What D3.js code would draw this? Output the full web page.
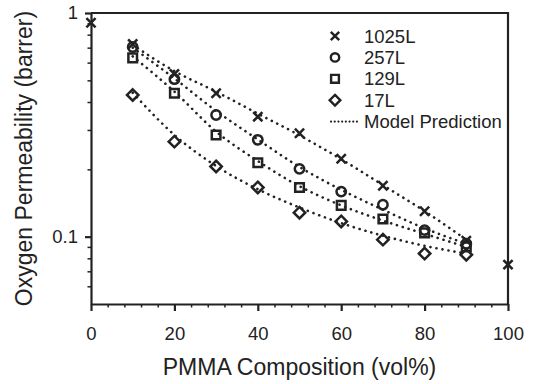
<!DOCTYPE html>
<html>
<head>
<meta charset="utf-8">
<script src="https://cdn.jsdelivr.net/npm/d3@7"></script>
<style>
  body { margin: 0; background: #fff; }
  text { font-family: "Liberation Sans", Arial, sans-serif; fill: #222; }
</style>
</head>
<body>
<div id="canvas"></div>
<script>
"use strict"

// composition values (vol% PMMA)
let composition = [10, 20, 30, 40, 50, 60, 70, 80, 90]
let seriesNames = ["1025L", "257L", "129L", "17L"]

let perm1025 = [0.727, 0.534, 0.438, 0.344, 0.290, 0.223, 0.169, 0.130, 0.096]
let perm257 = [0.705, 0.506, 0.350, 0.271, 0.201, 0.159, 0.139, 0.107, 0.093]
let perm129 = [0.630, 0.438, 0.285, 0.214, 0.166, 0.138, 0.120, 0.104, 0.090]
let perm17 = [0.430, 0.266, 0.206, 0.166, 0.128, 0.117, 0.097, 0.084, 0.083]

// pure components (0 and 100 vol%), drawn as 1025L crosses
let pureComposition = [0, 100]
let purePerm = [0.905, 0.075]

// model prediction curves
let model1025 = [0.72, 0.55, 0.445, 0.355, 0.284, 0.222, 0.170, 0.130, 0.097]
let model257 = [0.70, 0.51, 0.365, 0.272, 0.205, 0.162, 0.132, 0.109, 0.093]
let model129 = [0.64, 0.445, 0.295, 0.218, 0.168, 0.138, 0.118, 0.103, 0.090]
let model17 = [0.44, 0.285, 0.207, 0.163, 0.135, 0.115, 0.101, 0.091, 0.084]

let xTicks = [0, 20, 40, 60, 80, 100]
let yTicks = [0.1, 1]

let width = 538
let height = 384
let plotLeft = 91, plotRight = 508, plotTop = 13, plotBottom = 304

let drawing = d3.select("#canvas")
    .append("svg")
    .attr("width", width)
    .attr("height", height)

let x = d3.scaleLinear().domain([0, 100]).range([plotLeft, plotRight])
let y = d3.scaleLog().domain([0.05, 1]).range([plotBottom, plotTop])

let ink = "#222"
let font = "Liberation Sans, Arial, sans-serif"

// minor ticks first, so the axis lines sit on top
let xMinor = d3.range(0, 101, 4).filter(d => d % 20 != 0)
drawing.append("g")
    .attr("transform", `translate(0,${plotBottom})`)
    .call(d3.axisBottom(x).tickValues(xMinor).tickSize(3.5).tickFormat(""))
    .call(g => g.select(".domain").remove())
    .selectAll("line").attr("stroke", ink).attr("stroke-width", 1.5)

let yMinor = [0.06, 0.07, 0.08, 0.09, 0.2, 0.3, 0.4, 0.5, 0.6, 0.7, 0.8, 0.9]
drawing.append("g")
    .attr("transform", `translate(${plotLeft},0)`)
    .call(d3.axisLeft(y).tickValues(yMinor).tickSize(3.5).tickFormat(""))
    .call(g => g.select(".domain").remove())
    .selectAll("line").attr("stroke", ink).attr("stroke-width", 1.5)

let xAxis = drawing.append("g")
    .attr("transform", `translate(0,${plotBottom})`)
    .call(d3.axisBottom(x).tickValues(xTicks).tickSize(7).tickSizeOuter(0).tickPadding(16))
xAxis.selectAll("text").attr("font-size", 18.5).style("font-family", font)
xAxis.selectAll(".domain, .tick line").attr("stroke", ink).attr("stroke-width", 2.2)

let yAxis = drawing.append("g")
    .attr("transform", `translate(${plotLeft},0)`)
    .call(d3.axisLeft(y).tickValues(yTicks).tickSize(6).tickSizeOuter(0).tickPadding(7)
        .tickFormat(d => d == 1 ? "1" : "0.1"))
yAxis.selectAll("text").attr("font-size", 18.5).style("font-family", font)
yAxis.selectAll(".domain, .tick line").attr("stroke", ink).attr("stroke-width", 2.2)
drawing.selectAll(".tick text").attr("fill", ink)

// frame: top and right edges
let frame = drawing.append("path")
    .attr("d", `M${plotLeft},${plotTop}H${plotRight}V${plotBottom}`)
    .attr("fill", "none")
    .attr("stroke", ink)
    .attr("stroke-width", 2.2)

// model prediction dotted curves
let modelLine = d3.line()
    .x((d, i) => x(composition[i]))
    .y(d => y(d))
    .curve(d3.curveMonotoneX)

let models = [model1025, model257, model129, model17]
drawing.selectAll(".model")
    .data(models)
    .enter()
    .append("path")
    .attr("class", "model")
    .attr("d", modelLine)
    .attr("fill", "none")
    .attr("stroke", ink)
    .attr("stroke-width", 2.6)
    .attr("stroke-linecap", "round")
    .attr("stroke-dasharray", "0.1 6")

// marker shapes
function marker(kind, s) {
    if (kind == "x") return `M${-s},${-s}L${s},${s}M${-s},${s}L${s},${-s}`
    if (kind == "o") return d3.arc()({ innerRadius: 0, outerRadius: s, startAngle: 0, endAngle: 2 * Math.PI })
    if (kind == "s") return `M${-s},${-s}H${s}V${s}H${-s}Z`
    return `M0,${-s * 1.3}L${s * 1.3},0L0,${s * 1.3}L${-s * 1.3},0Z`
}

let kinds = ["x", "o", "s", "d"]
let sizes = [4.6, 4.7, 4.3, 4.4]
let measured = [perm1025, perm257, perm129, perm17]

// draw the last series at the back so the cluster at 10% looks like the picture
for (let k = 3; k >= 0; k--) {
    drawing.append("g")
        .selectAll("path")
        .data(measured[k])
        .enter()
        .append("path")
        .attr("transform", (d, i) => `translate(${x(composition[i])},${y(d)})`)
        .attr("d", marker(kinds[k], sizes[k]))
        .attr("fill", "none")
        .attr("stroke", ink)
        .attr("stroke-width", 2.5)
}

drawing.append("g")
    .selectAll("path")
    .data(purePerm)
    .enter()
    .append("path")
    .attr("transform", (d, i) => `translate(${x(pureComposition[i])},${y(d)})`)
    .attr("d", marker("x", 4.6))
    .attr("fill", "none")
    .attr("stroke", ink)
    .attr("stroke-width", 2.5)

// legend
let legendX = 335
let legendY = 36
let rowGap = 21.4
seriesNames.forEach((name, i) => {
    drawing.append("path")
        .attr("transform", `translate(${legendX},${legendY + i * rowGap})`)
        .attr("d", marker(kinds[i], kinds[i] == "d" ? 4.1 : (kinds[i] == "s" ? 3.9 : 4.2)))
        .attr("fill", "none")
        .attr("stroke", ink)
        .attr("stroke-width", 2.4)
    drawing.append("text")
        .attr("x", legendX + 29)
        .attr("y", legendY + i * rowGap)
        .attr("dy", "0.36em")
        .attr("font-size", 18.5)
        .text(name)
})
drawing.append("line")
    .attr("x1", legendX - 4)
    .attr("x2", legendX + 24)
    .attr("y1", legendY + 4 * rowGap)
    .attr("y2", legendY + 4 * rowGap)
    .attr("stroke", ink)
    .attr("stroke-width", 2.1)
    .attr("stroke-linecap", "round")
    .attr("stroke-dasharray", "0.1 3.6")
drawing.append("text")
    .attr("x", legendX + 29)
    .attr("y", legendY + 4 * rowGap)
    .attr("dy", "0.36em")
    .attr("font-size", 18.5)
    .text("Model Prediction")

// axis titles
drawing.append("text")
    .attr("x", (plotLeft + plotRight) / 2)
    .attr("y", 375)
    .attr("text-anchor", "middle")
    .attr("font-size", 23)
    .text("PMMA Composition (vol%)")

drawing.append("text")
    .attr("transform", `translate(32,${(plotTop + plotBottom) / 2}) rotate(-90)`)
    .attr("text-anchor", "middle")
    .attr("font-size", 23)
    .text("Oxygen Permeability (barrer)")
</script>
</body>
</html>
